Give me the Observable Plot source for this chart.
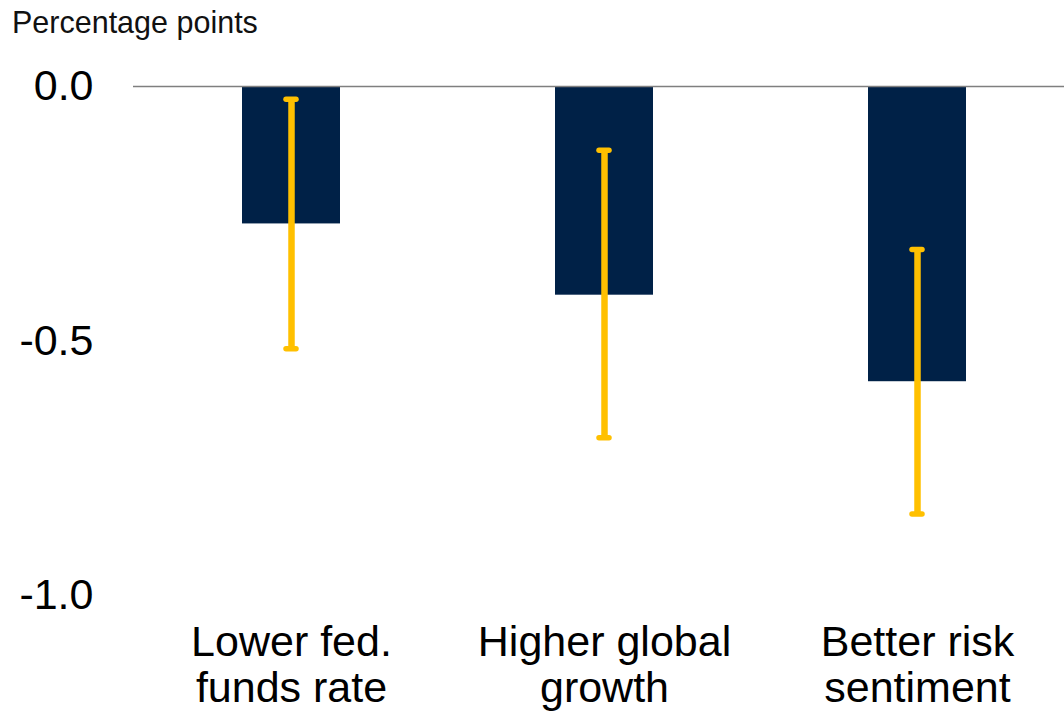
<!DOCTYPE html>
<html>
<head>
<meta charset="utf-8">
<script src="https://cdn.jsdelivr.net/npm/d3@7"></script>
<script src="https://cdn.jsdelivr.net/npm/@observablehq/plot@0.6"></script>
<style>
  html, body { margin: 0; padding: 0; background: #fff; overflow: hidden; }
  #title { height: 40px; box-sizing: border-box; padding: 8px 0 0 12px; font: 30.5px/29px "Liberation Sans", Arial, sans-serif; color: #111; }
  svg { display: block; }
</style>
</head>
<body>
<div id="title">Percentage points</div>
<div id="chart"></div>
<script>
const categories = ["Lower fed.\nfunds rate", "Higher global\ngrowth", "Better risk\nsentiment"];
const values = [-0.27, -0.41, -0.58];
const errLow = [-0.515, -0.69, -0.84];
const errHigh = [-0.025, -0.125, -0.32];
const yTicks = [0, -0.5, -1.0];

const data = categories.map((c, i) => ({cat: c, v: values[i], lo: errLow[i], hi: errHigh[i]}));
const ends = data.flatMap(d => [{cat: d.cat, y: d.lo}, {cat: d.cat, y: d.hi}]);

const chart = Plot.plot({
  width: 1064,
  height: 679,
  marginLeft: 133,
  marginRight: 0,
  marginTop: 46,
  marginBottom: 124,
  style: {fontFamily: "'Liberation Sans', Arial, sans-serif", color: "#000", background: "#fff"},
  x: {domain: categories, range: [133, 1074], paddingInner: 0.687, paddingOuter: 0.3435, label: null},
  y: {domain: [-1, 0], label: null},
  marks: [
    Plot.barY(data, {x: "cat", y: "v", fill: "#002147"}),
    Plot.ruleX(data, {x: "cat", y1: "lo", y2: "hi", stroke: "#FFC000", strokeWidth: 6.5}),
    Plot.tickY(ends, {x: "cat", y: "y", stroke: "#FFC000", strokeWidth: 5.5, strokeLinecap: "round", insetLeft: 44, insetRight: 44}),
    Plot.ruleY([0], {stroke: "#7f7f7f", strokeWidth: 1.5}),
    Plot.axisY({ticks: yTicks, tickFormat: d => d.toFixed(1), tickSize: 0, tickPadding: 40, fontSize: 43, label: null}),
    Plot.axisX({tickSize: 0, tickPadding: 28, fontSize: 43, lineHeight: 1.07, label: null})
  ]
});
document.getElementById("chart").appendChild(chart);
</script>
</body>
</html>
